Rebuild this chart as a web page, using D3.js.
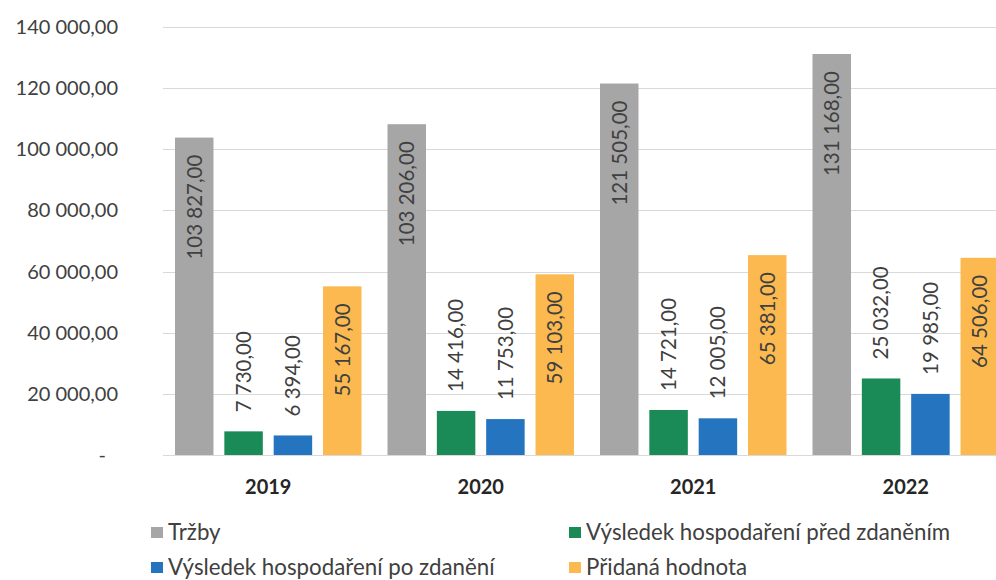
<!DOCTYPE html>
<html>
<head>
  <meta charset="utf-8">
  <script src="https://d3js.org/d3.v7.min.js"></script>
  <style>
    body { margin: 0; background: #fff; font-family: Lato, 'Open Sans', sans-serif; }
    svg { display: block; }
  </style>
</head>
<body>
  <div id="chart"></div>
  <script>
    // data
    const years = ["2019", "2020", "2021", "2022"];
    const seriesNames = ["Tržby", "Výsledek hospodaření před zdaněním", "Výsledek hospodaření po zdanění", "Přidaná hodnota"];
    const trzby = [103827, 108206, 121505, 131168];
    const predZdanenim = [7730, 14416, 14721, 25032];
    const poZdaneni = [6394, 11753, 12005, 19985];
    const pridanaHodnota = [55167, 59103, 65381, 64506];
    // printed labels (2020 label differs from bar height in the source)
    const trzbyLabels = [103827, 103206, 121505, 131168];
    const yTicks = [0, 20000, 40000, 60000, 80000, 100000, 120000, 140000];
    const colors = ["#a6a6a6", "#1a8a57", "#2574c0", "#fbb94f"];

    const values = [trzby, predZdanenim, poZdaneni, pridanaHodnota];
    const labelValues = [trzbyLabels, predZdanenim, poZdaneni, pridanaHodnota];

    const width = 996, height = 580;
    const svg = d3.select("#chart").append("svg")
      .attr("width", width)
      .attr("height", height);

    const cz = d3.formatLocale({ decimal: ",", thousands: "\u00a0", grouping: [3], currency: ["", ""] });
    const fmt = cz.format(",.2f");

    const y = d3.scaleLinear().domain([0, 140000]).range([455, 27]);
    const x0 = d3.scaleBand().domain(years).range([162, 1012]);
    const x1 = d3.scaleBand().domain(d3.range(4)).range([13, x0.bandwidth() - 13]).paddingInner(0.22);

    // gridlines
    svg.append("g").selectAll("line")
      .data(yTicks)
      .enter().append("line")
      .attr("x1", 163).attr("x2", width)
      .attr("y1", d => Math.round(y(d)) + 0.5)
      .attr("y2", d => Math.round(y(d)) + 0.5)
      .attr("stroke", "#d9d9d9")
      .attr("stroke-width", 1);

    // y tick labels
    svg.append("g").selectAll("text")
      .data(yTicks)
      .enter().append("text")
      .attr("x", d => d === 0 ? 106 : 118)
      .attr("y", d => y(d))
      .attr("dy", "0.35em")
      .attr("text-anchor", "end")
      .attr("font-size", 20)
      .attr("fill", "#404040")
      .text(d => d === 0 ? "-" : fmt(d));

    // bars
    const groups = svg.append("g").selectAll("g")
      .data(years)
      .enter().append("g")
      .attr("transform", d => `translate(${x0(d)},0)`);

    groups.selectAll("rect")
      .data((d, i) => values.map((s, j) => ({ j: j, v: s[i], lab: labelValues[j][i] })))
      .enter().append("rect")
      .attr("x", d => x1(d.j))
      .attr("width", x1.bandwidth())
      .attr("y", d => y(d.v))
      .attr("height", d => y(0) - y(d.v))
      .attr("fill", d => colors[d.j]);

    // data labels, rotated
    const pad = 17;
    groups.selectAll("text")
      .data((d, i) => values.map((s, j) => ({ j: j, v: s[i], lab: labelValues[j][i] })))
      .enter().append("text")
      .each(function (d) {
        const inside = (y(0) - y(d.v)) > 140;
        const cx = x1(d.j) + x1.bandwidth() / 2;
        const cy = inside ? y(d.v) + pad : y(d.v) - 19;
        d3.select(this)
          .attr("transform", `translate(${cx},${cy}) rotate(-90)`)
          .attr("text-anchor", inside ? "end" : "start");
      })
      .attr("dy", "0.36em")
      .attr("font-size", 20.5)
      .attr("fill", "#404040")
      .text(d => fmt(d.lab));

    // year labels
    svg.append("g").selectAll("text")
      .data(years)
      .enter().append("text")
      .attr("x", d => x0(d) + x0.bandwidth() / 2)
      .attr("y", 494)
      .attr("text-anchor", "middle")
      .attr("font-size", 20)
      .attr("font-weight", "bold")
      .attr("fill", "#262626")
      .text(d => d);

    // legend
    const legendPos = [[151, 527], [569, 527], [151, 562], [569, 562]];
    const legendOrder = [0, 1, 2, 3];
    const legend = svg.append("g").selectAll("g")
      .data(legendOrder)
      .enter().append("g")
      .attr("transform", (d, i) => `translate(${legendPos[i][0]},${legendPos[i][1]})`);

    legend.append("rect")
      .attr("width", 12).attr("height", 11)
      .attr("fill", d => colors[d]);

    legend.append("text")
      .attr("x", 17)
      .attr("y", 13)
      .attr("font-size", 22.3)
      .attr("fill", "#404040")
      .text(d => seriesNames[d]);
  </script>
</body>
</html>
